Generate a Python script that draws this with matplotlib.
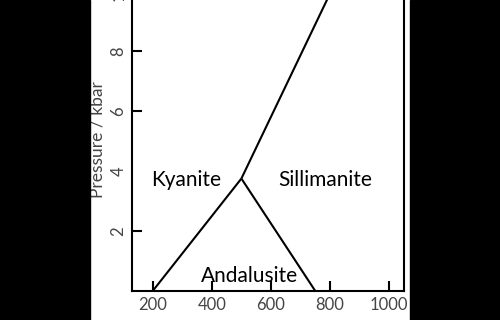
import matplotlib.pyplot as plt
from matplotlib.patches import Rectangle

# Al2SiO5 phase diagram: boundary lines (temperature in C, pressure in kbar)
ky_and_T = [200, 500]
ky_and_P = [0, 3.75]
and_sil_T = [500, 750]
and_sil_P = [3.75, 0]
ky_sil_T = [500, 828]
ky_sil_P = [3.75, 10.5]

faasid = ["Kyanite", "Sillimanite", "Andalusite"]
faasi_T = [312, 783, 529]
faasi_P = [3.7, 3.7, 0.5]

x_ticks = [200, 400, 600, 800, 1000]
y_ticks = [2, 4, 6, 8, 10]

plt.rcParams['font.family'] = ['Lato', 'DejaVu Sans']

fig = plt.figure(figsize=(5, 3.2), dpi=100)
ax = fig.add_axes([0.264, 0.0906, 0.544, 0.984])

for T, P in [(ky_and_T, ky_and_P), (and_sil_T, and_sil_P), (ky_sil_T, ky_sil_P)]:
    ax.plot(T, P, color='black', lw=1.5, solid_capstyle='butt')

for nimi, T, P in zip(faasid, faasi_T, faasi_P):
    ax.text(T, P, nimi, fontsize=15, ha='center', va='center', color='black')

ax.set_xlim(130, 1050)
ax.set_ylim(0, 10.5)
ax.set_xticks(x_ticks)
ax.set_yticks(y_ticks)
ax.tick_params(direction='in', length=7, width=1.5, labelsize=12,
               labelcolor='#454545', pad=4)
for lab in ax.get_yticklabels():
    lab.set_rotation(90)
    lab.set_va('center')
# originaalis 4 kbar kriips peaaegu puudub
ax.yaxis.get_major_ticks()[1].tick1line.set_visible(False)
for s in ax.spines.values():
    s.set_linewidth(1.5)
ax.set_xlabel('Temperature / °C', fontsize=12.5, color='#454545', labelpad=6)
ax.set_ylabel('Pressure / kbar', fontsize=12.5, color='#454545')
ax.yaxis.set_label_coords(-0.096, 0.48)

# mustad ääred
fig.patches.append(Rectangle((0, 0), 90 / 500, 1, transform=fig.transFigure,
                             color='black', zorder=10))
fig.patches.append(Rectangle((410 / 500, 0), 90 / 500, 1, transform=fig.transFigure,
                             color='black', zorder=10))

fig.savefig('out.png', dpi=100)
